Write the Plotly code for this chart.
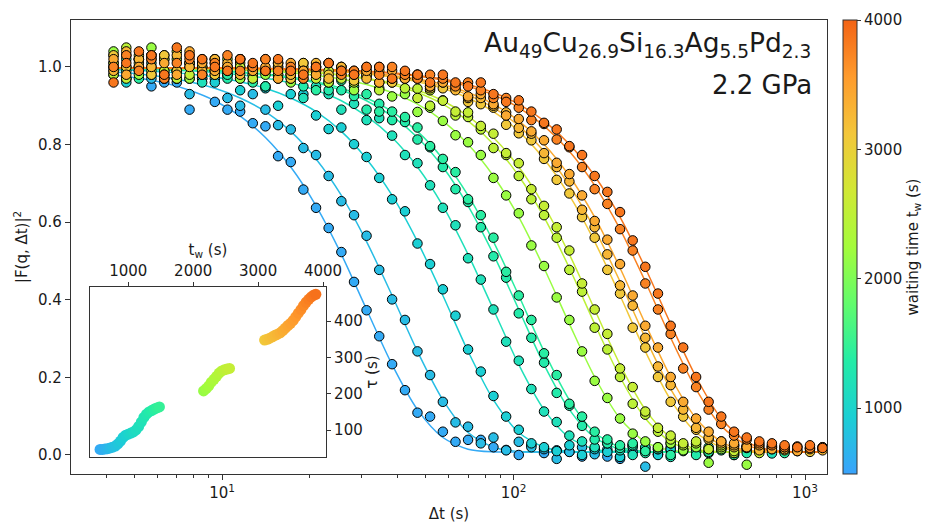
import plotly.graph_objects as go
from plotly.colors import sample_colorscale

# ---------------- data ----------------
# lag-time columns (s), shared by all correlation curves
DT = [4.24, 4.69, 5.18, 5.72, 6.33, 6.99, 7.73, 8.54, 9.44, 10.43, 11.53, 12.74, 14.08,
      15.56, 17.2, 19.0, 21.0, 23.2, 25.65, 28.35, 31.3, 34.6, 38.3, 42.4, 46.8, 51.7,
      57.2, 63.2, 69.8, 77.2, 85.3, 94.3, 104.2, 115.1, 127.2, 140.6, 155.4, 171.8,
      189.8, 209.8, 231.9, 256.3, 283.2, 313.0, 346.0, 382.0, 423.0, 467.0, 516.0,
      571.0, 631.0, 697.0, 770.0, 851.0, 941.0, 1040.0, 1149.0]

# waiting time of each curve (s)
TW = [565, 740, 930, 1180, 1330, 1400, 2170, 2480, 2570, 3100, 3290, 3420, 3760, 3850]

# measured |F(q,dt)|^2 points of each curve (one value per DT column)
D1 = [1.00, 0.97, 1.00, 0.95, 0.96, 0.96, 0.89, 0.97, 0.91, 0.89, 0.885, 0.855, 0.847, 0.770,
      0.755, 0.684, 0.637, 0.585, 0.523, 0.446, 0.373, 0.306, 0.234, 0.167, 0.109, 0.099,
      0.060, 0.034, 0.039, 0.039, 0.020, 0.013, 0.0, 0.025, 0.005, 0.012, 0.008, -0.004,
      0.016, -0.004, -0.010, 0.008, 0.018, 0.002, 0.012]
D2 = [1.00, 0.97, 1.02, 0.97, 0.97, 0.99, 0.93, 0.97, 0.97, 0.92, 0.90, 0.93, 0.89, 0.85,
      0.839, 0.791, 0.773, 0.719, 0.654, 0.618, 0.565, 0.477, 0.401, 0.348, 0.267, 0.206,
      0.137, 0.084, 0.073,
      0.030, 0.045, 0.012, 0.034, 0.020, 0.015, -0.010, 0.008, 0.020, 0.002, 0.014, -0.005,
      0.026, -0.030, 0.002, 0.020]
D3 = [1.01, 0.96, 1.00, 1.01, 0.98, 0.97, 1.01, 0.98, 0.96, 0.98, 0.94, 0.97, 0.945, 0.90,
      0.93, 0.93, 0.875, 0.84,
      0.844, 0.801, 0.768, 0.714, 0.659, 0.628, 0.545, 0.492, 0.427, 0.359, 0.272, 0.215,
      0.152, 0.099,
      0.065, 0.030, 0.020, 0.010, 0.025, 0.000, 0.015, 0.008, -0.005, 0.020, 0.010, 0.000, 0.015]
D4 = [0.98, 1.03, 0.99, 0.98, 1.03, 0.97, 1.00, 0.96, 1.01, 0.98, 0.97, 1.00, 0.95, 0.98,
      0.98, 0.92, 0.95, 0.93, 0.89, 0.905, 0.863, 0.868,
      0.823, 0.773, 0.752, 0.695, 0.637, 0.592, 0.507, 0.452, 0.375, 0.292, 0.243, 0.170,
      0.112, 0.085,
      0.050, 0.035, 0.020, 0.030, 0.012, 0.000, 0.020, 0.015, -0.005, 0.025, 0.010, 0.005,
      0.018, 0.000, 0.012, 0.022, 0.004, 0.010]
D5 = [1.03, 0.99, 1.02, 1.03, 0.97, 0.99, 1.01, 0.98, 1.02, 0.97, 1.00, 0.98, 0.95, 1.00,
      0.98, 0.95, 0.98, 0.94, 0.94, 0.95, 0.89, 0.905, 0.863, 0.858,
      0.813, 0.793, 0.742, 0.685, 0.652, 0.587, 0.512, 0.457, 0.365, 0.302, 0.238, 0.160,
      0.127, 0.075,
      0.040, 0.030, 0.018, 0.025, 0.005, 0.015, 0.030, 0.010, 0.000, 0.020, 0.012, 0.025,
      0.005, 0.015, 0.020, 0.008]
D6 = [0.99, 1.02, 0.97, 1.00, 1.02, 0.99, 0.97, 1.01, 0.99, 0.98, 1.02, 0.96, 0.99, 0.97,
      0.99, 0.97, 0.94, 0.965, 0.965, 0.925, 0.93, 0.885, 0.885, 0.871,
      0.844, 0.796, 0.763, 0.729, 0.659, 0.618, 0.560, 0.472, 0.411, 0.348, 0.262, 0.206,
      0.132, 0.099,
      0.060, 0.040, 0.025, 0.030, 0.010, 0.020, 0.000, 0.015, 0.028, 0.008, 0.018, 0.000,
      0.022, 0.010, 0.015, 0.005]
D7 = [1.04, 1.00, 0.98, 1.05, 0.99, 1.02, 0.97, 1.00, 0.99, 1.02, 0.97, 1.00, 0.98, 1.01,
      0.96, 0.98, 1.00, 0.96, 0.98, 0.94, 0.975, 0.945, 0.924, 0.93, 0.884, 0.895, 0.861,
      0.824, 0.806, 0.773, 0.714, 0.669, 0.623, 0.540, 0.487, 0.406, 0.348, 0.267, 0.191,
      0.147, 0.094,
      0.055, 0.035, 0.020, 0.030, 0.012, 0.020, -0.020, 0.015, 0.005, -0.025, 0.010]
D8 = [0.98, 1.05, 1.01, 0.99, 1.02, 0.97, 1.03, 1.00, 0.98, 1.00, 1.01, 0.98, 0.99, 1.01,
      0.97, 1.00, 0.99, 0.96, 1.00, 0.96, 0.98, 0.94, 0.965, 0.945, 0.944, 0.90, 0.914,
      0.875, 0.871,
      0.839, 0.791, 0.773, 0.719, 0.659, 0.618, 0.560, 0.477, 0.421, 0.328, 0.272, 0.201,
      0.132, 0.104,
      0.060, 0.040, 0.025, 0.030, 0.015, 0.020, 0.005, 0.018, 0.010]
D9 = [1.01, 0.97, 1.03, 1.02, 0.99, 1.04, 0.98, 1.00, 1.02, 0.99, 1.00, 0.97, 1.02, 0.98,
      0.99, 1.01, 0.97, 0.99, 0.97, 0.98, 0.99, 0.96, 0.96, 0.97, 0.92, 0.94, 0.913, 0.885,
      0.883,
      0.848, 0.828, 0.778, 0.752, 0.685, 0.642, 0.587, 0.527, 0.442, 0.375, 0.312, 0.223,
      0.175, 0.112,
      0.070, 0.050, 0.030, 0.035, 0.015, 0.025, 0.010, 0.020, 0.005]
D10 = [1.03, 1.00, 1.02, 0.98, 1.03, 0.99, 1.01, 1.02, 0.98, 1.00, 1.02, 0.99, 0.99, 1.00,
       0.97, 1.01, 0.99, 0.98, 1.00, 0.965, 0.98, 0.99, 0.96, 0.97, 0.98, 0.945, 0.945,
       0.944, 0.91, 0.904, 0.895, 0.851,
       0.829, 0.811, 0.763, 0.709, 0.674, 0.613, 0.560, 0.477, 0.416, 0.328, 0.277, 0.201,
       0.137, 0.099,
       0.065, 0.040, 0.035, 0.020, 0.025, 0.015, 0.020, 0.012, 0.018, 0.008, 0.015]
D11 = [0.99, 1.04, 1.02, 1.00, 0.98, 1.03, 1.00, 0.99, 1.02, 1.01, 0.98, 1.00, 0.99, 1.01,
       0.98, 0.99, 1.01, 0.97, 1.00, 0.99, 0.97, 1.00, 0.97, 0.98, 0.97, 0.95, 0.96, 0.94,
       0.92, 0.92, 0.90, 0.883, 0.843,
       0.828, 0.778, 0.742, 0.705, 0.632, 0.587, 0.517, 0.437, 0.385, 0.302, 0.228, 0.180,
       0.117, 0.070,
       0.045, 0.030, 0.025, 0.020, 0.012, 0.022, 0.015, 0.010, 0.018, 0.012]
D12 = [1.02, 0.98, 1.00, 1.03, 1.01, 0.98, 1.04, 1.01, 0.99, 1.00, 1.02, 0.99, 1.00, 0.97,
       1.01, 0.99, 0.98, 1.01, 0.99, 0.98, 0.99, 0.96, 0.99, 0.97, 0.98, 0.95, 0.96, 0.955,
       0.924, 0.93, 0.904, 0.875, 0.866,
       0.834, 0.811, 0.753, 0.724, 0.669, 0.603, 0.555, 0.492, 0.411, 0.333, 0.277, 0.201,
       0.137, 0.094,
       0.060, 0.035, 0.030, 0.020, 0.025, 0.015, 0.020, 0.010, 0.015, 0.020]
D13 = [1.00, 1.03, 0.99, 1.02, 0.97, 1.01, 1.02, 0.98, 1.01, 1.03, 0.99, 1.00, 1.02, 0.99,
       1.00, 0.97, 1.00, 1.01, 0.98, 0.99, 1.00, 0.98, 1.00, 0.98, 0.97, 0.98, 0.97, 0.95,
       0.96, 0.94, 0.92, 0.92, 0.895, 0.863, 0.853,
       0.813, 0.793, 0.742, 0.685, 0.647, 0.582, 0.527, 0.442, 0.375, 0.312, 0.223, 0.175,
       0.117, 0.080,
       0.050, 0.040, 0.030, 0.025, 0.020, 0.022, 0.018, 0.020]
D14 = [0.96, 1.01, 1.04, 1.03, 0.98, 1.05, 1.03, 1.02, 1.00, 0.99, 1.02, 1.01, 0.99, 1.02,
       0.99, 0.98, 1.00, 1.01, 0.99, 0.98, 1.00, 1.00, 0.97, 0.99, 0.98, 0.96, 0.98, 0.96,
       0.95, 0.96, 0.93, 0.91, 0.914, 0.885, 0.856,
       0.839, 0.796, 0.773, 0.719, 0.678, 0.626, 0.553, 0.485, 0.416, 0.333, 0.277, 0.201,
       0.137, 0.099,
       0.060, 0.045, 0.035, 0.030, 0.025, 0.020, 0.025, 0.018]
DATA = [D1, D2, D3, D4, D5, D6, D7, D8, D9, D10, D11, D12, D13, D14]

# fitted curves, read at every second DT column
F1 = [0.980, 0.971, 0.959, 0.940, 0.913, 0.873, 0.818, 0.742, 0.642, 0.517, 0.375, 0.233,
      0.117, 0.045, 0.015, 0.008] + [0.008] * 13
F2 = [0.987, 0.982, 0.974, 0.962, 0.945, 0.920, 0.885, 0.834, 0.763, 0.669, 0.550, 0.411,
      0.267, 0.142, 0.058, 0.020, 0.009] + [0.008] * 12
F3 = [0.993, 0.991, 0.987, 0.982, 0.974, 0.962, 0.945, 0.920, 0.885, 0.834, 0.763, 0.669,
      0.550, 0.411, 0.267, 0.142, 0.058, 0.020, 0.009] + [0.008] * 10
F4 = [0.995, 0.994, 0.992, 0.990, 0.986, 0.980, 0.971, 0.959, 0.940, 0.913, 0.873, 0.818,
      0.742, 0.642, 0.517, 0.375, 0.233, 0.117, 0.045, 0.015, 0.008] + [0.008] * 8
F5 = [0.996, 0.995, 0.994, 0.992, 0.990, 0.986, 0.980, 0.971, 0.959, 0.940, 0.913, 0.873,
      0.818, 0.742, 0.642, 0.517, 0.375, 0.233, 0.117, 0.045, 0.015, 0.008] + [0.008] * 7
F6 = [0.997, 0.996, 0.995, 0.993, 0.991, 0.987, 0.982, 0.974, 0.962, 0.945, 0.920, 0.885,
      0.834, 0.763, 0.669, 0.550, 0.411, 0.267, 0.142, 0.058, 0.020, 0.009] + [0.008] * 7
F7 = [0.997, 0.997, 0.996, 0.995, 0.994, 0.992, 0.989, 0.985, 0.978, 0.969, 0.955, 0.934,
      0.904, 0.861, 0.801, 0.719, 0.613, 0.482, 0.338, 0.201, 0.094, 0.034, 0.012,
      0.008] + [0.008] * 5
F8 = [0.997, 0.997, 0.997, 0.996, 0.995, 0.994, 0.992, 0.989, 0.985, 0.978, 0.969, 0.955,
      0.934, 0.904, 0.861, 0.801, 0.719, 0.613, 0.482, 0.338, 0.201, 0.094, 0.034, 0.012,
      0.008] + [0.008] * 4
F9 = [0.997, 0.997, 0.997, 0.996, 0.995, 0.994, 0.992, 0.990, 0.986, 0.980, 0.971, 0.959,
      0.940, 0.913, 0.873, 0.818, 0.742, 0.642, 0.517, 0.375, 0.233, 0.117, 0.045, 0.015,
      0.008] + [0.008] * 4
F10 = [0.997, 0.997, 0.997, 0.997, 0.997, 0.996, 0.995, 0.993, 0.991, 0.987, 0.982, 0.974,
       0.962, 0.945, 0.920, 0.885, 0.834, 0.763, 0.669, 0.550, 0.411, 0.267, 0.142, 0.058,
       0.020, 0.009, 0.008, 0.008, 0.008]
F11 = [0.997, 0.997, 0.997, 0.997, 0.997, 0.996, 0.995, 0.993, 0.992, 0.988, 0.983, 0.976,
       0.966, 0.950, 0.928, 0.895, 0.848, 0.783, 0.695, 0.582, 0.447, 0.302, 0.170, 0.075,
       0.026, 0.010, 0.008, 0.008, 0.008]
F12 = [0.997, 0.997, 0.997, 0.997, 0.997, 0.996, 0.995, 0.994, 0.992, 0.989, 0.985, 0.978,
       0.969, 0.955, 0.934, 0.904, 0.861, 0.801, 0.719, 0.613, 0.482, 0.338, 0.201, 0.094,
       0.034, 0.012, 0.008, 0.008, 0.008]
F13 = [0.997, 0.997, 0.997, 0.997, 0.997, 0.997, 0.996, 0.995, 0.993, 0.992, 0.988, 0.983,
       0.976, 0.966, 0.950, 0.928, 0.895, 0.848, 0.783, 0.695, 0.582, 0.447, 0.302, 0.170,
       0.075, 0.026, 0.010, 0.008, 0.008]
F14 = [0.997, 0.997, 0.997, 0.997, 0.997, 0.997, 0.996, 0.995, 0.994, 0.992, 0.989, 0.985,
       0.978, 0.969, 0.955, 0.934, 0.904, 0.861, 0.801, 0.719, 0.613, 0.482, 0.338, 0.201,
       0.094, 0.034, 0.012, 0.008, 0.008]
FITS = [F1, F2, F3, F4, F5, F6, F7, F8, F9, F10, F11, F12, F13, F14]

# inset: relaxation time tau versus waiting time
TW_INSET = [565, 600, 640, 680, 720, 760, 800, 840, 880, 920, 960, 1000, 1040, 1080, 1120,
            1160, 1200, 1240, 1280, 1320, 1360, 1400, 1440, 1480,
            2160, 2200, 2240, 2280, 2320, 2360, 2400, 2440, 2480, 2520, 2560,
            3100, 3140, 3180, 3220, 3260, 3300, 3340, 3380, 3420, 3460, 3500, 3540, 3580,
            3620, 3660, 3700, 3740, 3780, 3820, 3860, 3890]
TAU_INSET = [47, 47, 48, 49, 51, 53, 56, 62, 70, 80, 86, 89, 92, 95, 101,
             110, 122, 135, 144, 150, 154, 158, 161, 164,
             208, 214, 222, 232, 240, 248, 257, 263, 266, 268, 270,
             348, 350, 353, 357, 361, 364, 368, 374, 381, 388, 394, 402, 412,
             422, 432, 443, 452, 460, 467, 472, 474]

X_TICKVALS = [10, 100, 1000]
X_TICKTEXT = ["10<sup>1</sup>", "10<sup>2</sup>", "10<sup>3</sup>"]
X_MINOR = [4, 5, 6, 7, 8, 9, 20, 30, 40, 50, 60, 70, 80, 90,
           200, 300, 400, 500, 600, 700, 800, 900]
Y_TICKVALS = [0.0, 0.2, 0.4, 0.6, 0.8, 1.0]
CB_TICKVALS = [1000, 2000, 3000, 4000]

# ---------------- style ----------------
FONT = "DejaVu Sans"
TXT = "#1a1a1a"
AX = "#333333"
TURBO_PART = ["#39a2fc", "#1bcfd4", "#24eca6", "#61fc6c", "#a4fc3b",
              "#d1e834", "#f3c63a", "#fe9b2d", "#f36315"]
CSCALE = [[i / (len(TURBO_PART) - 1), c] for i, c in enumerate(TURBO_PART)]
CMIN, CMAX = 490, 4000

fig = go.Figure()

for tw, fit in zip(TW, FITS):
    col = sample_colorscale(CSCALE, [(tw - CMIN) / (CMAX - CMIN)])[0]
    fig.add_trace(go.Scatter(
        x=DT[::2], y=fit, mode="lines",
        line=dict(color=col, width=1.5, shape="spline", smoothing=0.8),
        hoverinfo="skip", showlegend=False))

for tw, d in zip(TW, DATA):
    fig.add_trace(go.Scatter(
        x=DT[:len(d)], y=d, mode="markers",
        marker=dict(size=9.5, color=[tw] * len(d), coloraxis="coloraxis",
                    line=dict(color="black", width=1)),
        showlegend=False))

fig.add_trace(go.Scatter(
    x=TW_INSET, y=TAU_INSET, mode="markers", xaxis="x2", yaxis="y2",
    marker=dict(size=11, color=TW_INSET, coloraxis="coloraxis", line=dict(width=0)),
    showlegend=False))

tickfont = dict(family=FONT, size=15, color=TXT)
titlefont = dict(family=FONT, size=15, color=TXT)

# the page body adds an 8 px offset, so the figure is 8 px smaller than the window
fig.update_layout(
    width=923, height=515,
    margin=dict(l=63, r=104, t=12, b=49, autoexpand=False),
    paper_bgcolor="white", plot_bgcolor="white",
    font=dict(family=FONT, size=15, color=TXT),
    coloraxis=dict(
        colorscale=CSCALE, cmin=CMIN, cmax=CMAX,
        colorbar=dict(
            x=1.0212, xanchor="left", xpad=0, ypad=0, y=0.5, yanchor="middle",
            len=1.0, lenmode="fraction", thickness=14,
            outlinecolor=AX, outlinewidth=1,
            tickvals=CB_TICKVALS, ticks="outside", ticklen=4, tickcolor=AX,
            tickfont=tickfont,
            title=dict(text="waiting time t<sub>w</sub> (s)", side="right", font=titlefont))),
    xaxis=dict(
        type="log", range=[0.4814, 3.0755], domain=[0, 1], automargin=False,
        tickvals=X_TICKVALS, ticktext=X_TICKTEXT, ticks="outside", ticklen=5,
        tickcolor=AX, tickfont=tickfont,
        minor=dict(ticks="outside", ticklen=3, tickcolor=AX, tickvals=X_MINOR, showgrid=False),
        showline=True, linecolor=AX, linewidth=1.2, mirror=True,
        showgrid=False, zeroline=False,
        title=dict(text="Δt (s)", font=titlefont, standoff=8)),
    yaxis=dict(
        range=[-0.049, 1.121], domain=[0, 1], automargin=False,
        tickvals=Y_TICKVALS, tickformat=".1f", ticks="outside", ticklen=5,
        tickcolor=AX, tickfont=tickfont,
        showline=True, linecolor=AX, linewidth=1.2, mirror=True,
        showgrid=False, zeroline=False,
        title=dict(text="|F(q, Δt)|<sup>2</sup>", font=titlefont, standoff=6)),
    xaxis2=dict(
        domain=[0.0251, 0.3373], anchor="y2", side="top", range=[410, 4046], automargin=False,
        tickvals=[1000, 2000, 3000, 4000], ticks="outside", ticklen=4, tickcolor=AX,
        tickfont=tickfont,
        showline=True, linecolor=AX, linewidth=1.2, mirror=True,
        showgrid=False, zeroline=False,
        title=dict(text="t<sub>w</sub> (s)", font=titlefont, standoff=2)),
    yaxis2=dict(
        domain=[0.0374, 0.4119], anchor="x2", side="right", range=[26, 494], automargin=False,
        tickvals=[100, 200, 300, 400], ticks="outside", ticklen=4, tickcolor=AX,
        tickfont=tickfont,
        showline=True, linecolor=AX, linewidth=1.2, mirror=True,
        showgrid=False, zeroline=False,
        title=dict(text="τ (s)", font=titlefont, standoff=2)),
    annotations=[
        dict(text="Au<sub>49</sub>Cu<sub>26.9</sub>Si<sub>16.3</sub>Ag<sub>5.5</sub>Pd<sub>2.3</sub>",
             xref="paper", yref="paper", x=0.981, y=0.947, xanchor="right", yanchor="middle",
             showarrow=False, font=dict(family=FONT, size=26.5, color=TXT)),
        dict(text="2.2 GPa", xref="paper", yref="paper", x=0.983, y=0.857,
             xanchor="right", yanchor="middle", showarrow=False,
             font=dict(family=FONT, size=26, color=TXT)),
    ],
)

fig.write_html("out.html")
